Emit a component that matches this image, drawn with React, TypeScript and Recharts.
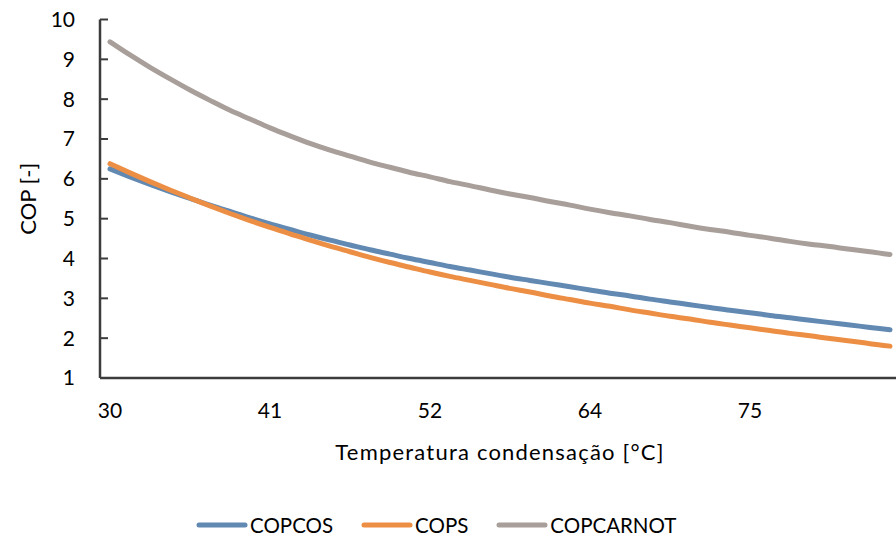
import React from 'react';
import { LineChart, Line, XAxis, YAxis, Legend } from 'recharts';

const FONT = 'Lato, "Liberation Sans", sans-serif';

const temperatures = [
  30, 31.4, 32.8, 34.2, 35.6, 37, 38.4, 39.8, 41.2, 42.6,
  44, 45.4, 46.8, 48.2, 49.6, 51, 52.4, 53.8, 55.2, 56.6,
  58, 59.4, 60.8, 62.2, 63.6, 65, 66.4, 67.8, 69.2, 70.6,
  72, 73.4, 74.8, 76.2, 77.6, 79, 80.4, 81.8, 83.2, 84.6,
];

const copCos = [
  6.25, 6.05, 5.86, 5.68, 5.51, 5.34, 5.18, 5.02, 4.87, 4.73,
  4.59, 4.46, 4.34, 4.22, 4.11, 4.0, 3.9, 3.8, 3.71, 3.62,
  3.53, 3.45, 3.37, 3.29, 3.21, 3.13, 3.06, 2.98, 2.91, 2.84,
  2.77, 2.7, 2.64, 2.57, 2.51, 2.45, 2.39, 2.33, 2.27, 2.21,
];

const copS = [
  6.38, 6.15, 5.93, 5.72, 5.52, 5.32, 5.13, 4.95, 4.78, 4.62,
  4.46, 4.31, 4.17, 4.03, 3.9, 3.78, 3.66, 3.55, 3.45, 3.35,
  3.25, 3.16, 3.06, 2.97, 2.88, 2.8, 2.71, 2.63, 2.55, 2.48,
  2.4, 2.33, 2.26, 2.19, 2.12, 2.06, 1.99, 1.93, 1.86, 1.8,
];

const copCarnot = [
  9.44, 9.11, 8.8, 8.51, 8.23, 7.97, 7.72, 7.5, 7.28, 7.08,
  6.89, 6.72, 6.57, 6.42, 6.29, 6.16, 6.05, 5.93, 5.83, 5.72,
  5.62, 5.53, 5.43, 5.34, 5.24, 5.15, 5.07, 4.98, 4.9, 4.81,
  4.73, 4.66, 4.58, 4.51, 4.43, 4.36, 4.3, 4.23, 4.17, 4.1,
];

const yTicks = [1, 2, 3, 4, 5, 6, 7, 8, 9, 10];

const seriesNames = ['COPCOS', 'COPS', 'COPCARNOT'];
const seriesColors = ['#6189B2', '#EC8E44', '#A89E9A'];
const seriesValues = [copCos, copS, copCarnot];

const xTitle = 'Temperatura condensação [°C]';
const yTitle = 'COP [-]';

const data = temperatures.map((t, i) => {
  const row: Record<string, number> = { t };
  seriesNames.forEach((name, s) => {
    row[name] = seriesValues[s][i];
  });
  return row;
});

const AXIS_COLOR = '#3c3c3c';

const YTitle = (props: any) => {
  const vb = props.viewBox || { x: 0, y: 0, width: 0, height: 0 };
  const cx = vb.x + 27;
  const cy = vb.y + vb.height / 2;
  return (
    <text
      x={cx}
      y={cy}
      transform={`rotate(-90 ${cx} ${cy})`}
      textAnchor="middle"
      dominantBaseline="central"
      fontFamily={FONT}
      fontSize={22}
      fill="#000"
    >
      {yTitle}
    </text>
  );
};

const XTitle = (props: any) => {
  const vb = props.viewBox || { x: 0, y: 0, width: 0, height: 0 };
  const cx = vb.x + vb.width / 2;
  const cy = vb.y + 73;
  return (
    <text
      x={cx}
      y={cy}
      textAnchor="middle"
      dominantBaseline="central"
      fontFamily={FONT}
      fontSize={22}
      letterSpacing={1.2}
      fill="#000"
    >
      {xTitle}
    </text>
  );
};

const renderLegend = () => (
  <div
    style={{
      display: 'flex',
      alignItems: 'center',
      height: 30,
      paddingLeft: 196,
      fontFamily: FONT,
      fontSize: 20.5,
      color: '#000',
    }}
  >
    {seriesNames.map((name, s) => (
      <div key={name} style={{ display: 'flex', alignItems: 'center', marginRight: 28 }}>
        <svg width={52} height={10}>
          <line x1={3} y1={5} x2={49} y2={5} stroke={seriesColors[s]} strokeWidth={5} strokeLinecap="round" />
        </svg>
        <span style={{ marginLeft: 2 }}>{name}</span>
      </div>
    ))}
  </div>
);

export default function App() {
  return (
    <div
      style={{
        position: 'absolute',
        left: 0,
        top: 0,
        width: 896,
        height: 541,
        overflow: 'hidden',
        background: '#fff',
      }}
    >
      <LineChart
        width={900}
        height={541}
        data={data}
        margin={{ top: 19.5, right: 0, left: 0, bottom: 38 }}
      >
        <XAxis
          dataKey="t"
          type="category"
          interval={7}
          padding={{ left: 10, right: 10 }}
          tickFormatter={(v: number) => String(Math.round(v))}
          tickLine={false}
          tickSize={0}
          tickMargin={25}
          height={95}
          axisLine={{ stroke: AXIS_COLOR, strokeWidth: 2.5 }}
          tick={{ fontFamily: FONT, fontSize: 21, fill: '#000' }}
          label={<XTitle />}
        />
        <YAxis
          type="number"
          domain={[1, 10]}
          ticks={yTicks}
          interval={0}
          width={100}
          tickSize={-8}
          tickMargin={33}
          tickLine={{ stroke: AXIS_COLOR, strokeWidth: 2 }}
          axisLine={{ stroke: AXIS_COLOR, strokeWidth: 2.5 }}
          tick={{ fontFamily: FONT, fontSize: 21, fill: '#000' }}
          label={<YTitle />}
        />
        <Legend
          verticalAlign="bottom"
          content={renderLegend}
          wrapperStyle={{ left: 0, bottom: 1, width: 896, height: 30 }}
        />
        {seriesNames.map((name, s) => (
          <Line
            key={name}
            type="monotone"
            dataKey={name}
            name={name}
            stroke={seriesColors[s]}
            strokeWidth={5}
            strokeLinecap="round"
            strokeLinejoin="round"
            dot={false}
            activeDot={false}
            isAnimationActive={false}
          />
        ))}
      </LineChart>
    </div>
  );
}
